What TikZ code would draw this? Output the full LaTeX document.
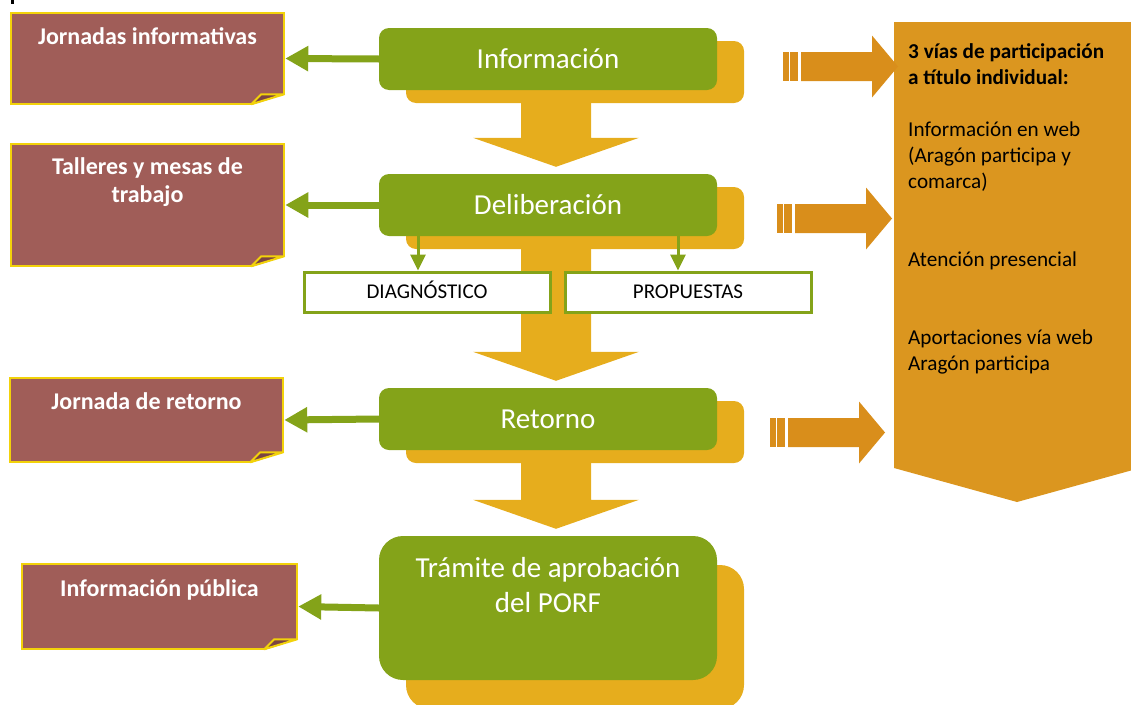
\documentclass[tikz,border=0pt]{standalone}
\usepackage{fontspec}
\setmainfont{Carlito}
\usetikzlibrary{arrows.meta,shadows}

\definecolor{stagegreen}{RGB}{132,163,25}
\definecolor{shadowgold}{RGB}{230,173,29}
\definecolor{panelorange}{RGB}{219,150,31}
\definecolor{sideorange}{RGB}{217,142,27}
\definecolor{notefill}{RGB}{160,93,88}
\definecolor{noteline}{RGB}{242,210,10}
\definecolor{foldfill}{RGB}{123,68,67}

% block arrow between two stages
\newcommand{\goldflow}[2]{%
  \fill[flow] ([xshift=-27pt,yshift=-10pt]#1.south) -- ([xshift=43pt,yshift=-10pt]#1.south)
    -- ([xshift=43pt,yshift=36pt]#2.north) -- ([xshift=91pt,yshift=36pt]#2.north)
    -- ([xshift=8pt,yshift=7pt]#2.north) -- ([xshift=-75pt,yshift=36pt]#2.north)
    -- ([xshift=-27pt,yshift=36pt]#2.north) -- cycle;}

% striped arrow towards the panel
\newcommand{\sidearrow}[2]{%
  \fill[sidefill] (#1,#2-14.5) rectangle (#1+5.5,#2+14.5);
  \fill[sidefill] (#1+7,#2-14.5) rectangle (#1+15,#2+14.5);
  \fill[sidefill] (#1+18,#2-14.5) -- (#1+89,#2-14.5) -- (#1+89,#2-31) -- (#1+115,#2)
    -- (#1+89,#2+31) -- (#1+89,#2+14.5) -- (#1+18,#2+14.5) -- cycle;}

\begin{document}
\begin{tikzpicture}[x=1pt,y=-1pt]

\useasboundingbox (0,0) rectangle (1131,704);

\tikzstyle{stagebase}=[rectangle,rounded corners=10pt,fill=stagegreen,minimum width=338pt,minimum height=62pt,inner sep=0pt,text=white,font=\fontsize{29}{35}\selectfont]
\tikzstyle{stage}=[stagebase,general shadow={fill=shadowgold,shadow xshift=27pt,shadow yshift=-13pt}]
\tikzstyle{bigstage}=[stagebase,rounded corners=24pt,minimum height=144pt,general shadow={fill=shadowgold,shadow xshift=27pt,shadow yshift=-29pt}]
\tikzstyle{stagetext}=[text=white,font=\fontsize{29}{35}\selectfont,align=center,inner sep=0pt]
\tikzstyle{note}=[rectangle,fill=notefill,draw=noteline,line width=2.5pt,minimum width=273pt,inner sep=0pt]
\tikzstyle{notetext}=[text=white,font=\bfseries\fontsize{24}{28}\selectfont,align=center,inner sep=0pt,anchor=base]
\tikzstyle{fold}=[fill=foldfill,draw=noteline,line width=2pt,line join=round]
\tikzstyle{result}=[rectangle,draw=stagegreen,fill=white,line width=3pt,minimum width=246pt,minimum height=40pt,inner sep=0pt,font=\fontsize{21}{25}\selectfont,text height=13.5pt,text depth=0pt]
\tikzstyle{feed}=[draw=stagegreen,line width=7pt,-{Triangle[length=23pt,width=24pt]}]
\tikzstyle{split}=[draw=stagegreen,line width=3pt,-{Triangle[length=16pt,width=15pt]}]
\tikzstyle{flow}=[fill=shadowgold]
\tikzstyle{sidefill}=[fill=sideorange]

\fill (11,0) rectangle (14,4);

%stages
\node[stage] (info) at (548,59) {Información};
\node[stage] (delib) at (548,205) {Deliberación};
\node[stage] (retorno) at (548,419) {Retorno};
\node[bigstage] (tramite) at (548,608) {};
\node[stagetext,anchor=base] (tramtext) at ([yshift=-4.5pt]tramite.center) {Trámite de aprobación\\del PORF};

%flow
\goldflow{info}{delib}
\goldflow{delib}{retorno}
\goldflow{retorno}{tramite}

%results
\node[result] (diag) at (427,292) {DIAGNÓSTICO};
\node[result] (prop) at (688,292) {PROPUESTAS};
\draw[split] ([xshift=-130pt]delib.south) -- ([xshift=-130pt]delib.south |- diag.north);
\draw[split] ([xshift=130pt]delib.south) -- ([xshift=130pt]delib.south |- prop.north);

%notes
\node[note,minimum height=91pt] (jornadas) at (147.5,58.5) {};
\node[note,minimum height=122pt] (talleres) at (147.5,205) {};
\node[note,minimum height=84pt] (jretorno) at (146.5,420) {};
\node[note,minimum width=275pt,minimum height=85pt] (infpub) at (159.5,606.5) {};

\foreach \n in {jornadas,talleres,jretorno,infpub}{
  \fill[white] ([xshift=-34pt]\n.south east) -- ([xshift=-34pt,yshift=-3pt]\n.south east)
    -- ([xshift=3pt,yshift=-3pt]\n.south east) -- ([xshift=3pt,yshift=11pt]\n.south east)
    -- ([yshift=11pt]\n.south east) -- cycle;
  \draw[fold] ([xshift=-34pt,yshift=1pt]\n.south east) -- ([xshift=-24pt,yshift=11pt]\n.south east)
    -- ([xshift=-1pt,yshift=11pt]\n.south east) -- cycle;
}

\node[notetext] (jornadastext) at ([yshift=-33pt]jornadas.north) {Jornadas informativas};
\node[notetext] (tallerestext) at ([yshift=-60pt]talleres.north) {Talleres y mesas de\\trabajo};
\node[notetext] (jretornotext) at ([yshift=-33pt]jretorno.north) {Jornada de retorno};
\node[notetext] (infpubtext) at ([yshift=-34pt]infpub.north) {Información pública};

%connections
\draw[feed] (info.west) -- (jornadas.east);
\draw[feed] (delib.west) -- (talleres.east);
\draw[feed] (retorno.west) -- (jretorno.east);
\draw[feed] (tramite.west) -- (infpub.east);

% participation panel
\fill[panelorange] (894,22) -- (1140,22) -- (1140,468) -- (1017,502) -- (894,468) -- cycle;
\node[anchor=base west,align=left,inner sep=0pt,font=\fontsize{21.2}{26}\selectfont] (vias) at (908,370)
  {\textbf{3 vías de participación}\\\textbf{a título individual:}\\[26pt]
   Información en web\\(Aragón participa y\\comarca)\\[52pt]
   Atención presencial\\[52pt]
   Aportaciones vía web\\Aragón participa};

\sidearrow{783}{66.5}
\sidearrow{777}{218.5}
\sidearrow{770}{432.5}

\end{tikzpicture}
\end{document}
